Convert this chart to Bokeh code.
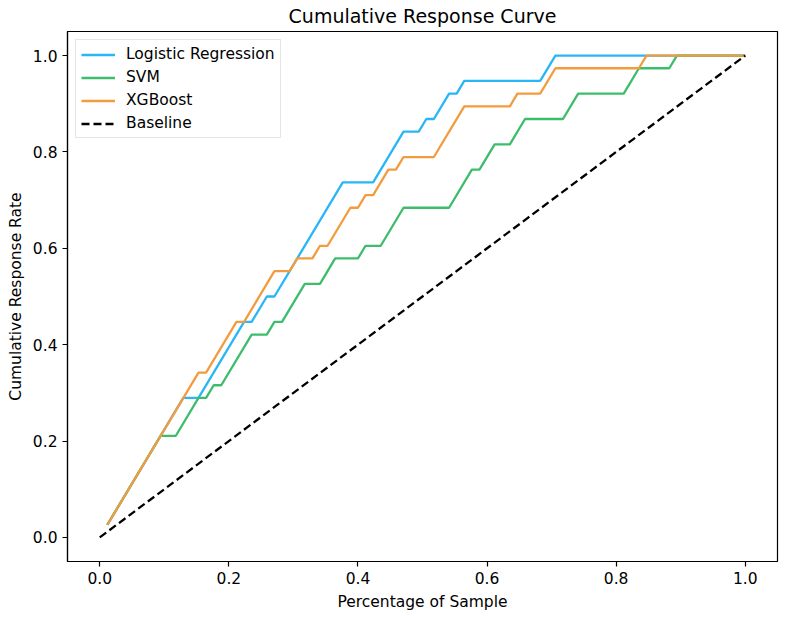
from bokeh.plotting import figure
from bokeh.models import Range1d, FixedTicker, PrintfTickFormatter
from bokeh.embed import file_html
from bokeh.resources import INLINE

# Test-set size and number of responders used to normalise the curves
N_SAMPLES = 85
N_POSITIVES = 38

# Vertices of each cumulative response curve:
# samples taken (ranked by score) and responders captured at that point
lr_samples = [1, 11, 13, 19, 20, 22, 23, 32, 36, 40, 42, 43, 44, 46, 47, 48, 58, 60, 85]
lr_hits = [1, 11, 11, 17, 17, 19, 19, 28, 28, 32, 32, 33, 33, 35, 35, 36, 36, 38, 38]

svm_samples = [1, 8, 10, 13, 14, 15, 16, 20, 22, 23, 24, 27, 29, 31, 34, 35, 37, 40,
               46, 49, 50, 52, 54, 56, 61, 63, 69, 71, 75, 76, 85]
svm_hits = [1, 8, 8, 11, 11, 12, 12, 16, 16, 17, 17, 20, 20, 22, 22, 23, 23, 26,
            26, 29, 29, 31, 31, 33, 33, 35, 35, 37, 37, 38, 38]

xgb_samples = [1, 13, 14, 18, 19, 23, 25, 26, 28, 29, 30, 33, 34, 35, 36, 38, 39, 40,
               44, 48, 54, 55, 58, 60, 71, 72, 85]
xgb_hits = [1, 13, 13, 17, 17, 21, 21, 22, 22, 23, 23, 26, 26, 27, 27, 29, 29, 30,
            30, 34, 34, 35, 35, 37, 37, 38, 38]

baseline_x = [0.0, 1.0]
baseline_y = [0.0, 1.0]

tick_values = [0.0, 0.2, 0.4, 0.6, 0.8, 1.0]

series = [
    ("Logistic Regression", lr_samples, lr_hits, "#29B6F6"),
    ("SVM", svm_samples, svm_hits, "#3DBD6C"),
    ("XGBoost", xgb_samples, xgb_hits, "#F39B3F"),
]

FONT = "DejaVu Sans"

p = figure(
    width=786, height=617,
    output_backend="svg", toolbar_location=None,
    x_range=Range1d(-0.05, 1.05), y_range=Range1d(-0.05, 1.05),
    min_border_left=67, min_border_right=9,
    min_border_top=31, min_border_bottom=56,
    title="Cumulative Response Curve",
    x_axis_label="Percentage of Sample",
    y_axis_label="Cumulative Response Rate",
)
p.background_fill_color = "white"
p.border_fill_color = "white"
p.grid.visible = False
p.outline_line_color = "black"
p.outline_line_width = 1.2
p.outline_line_alpha = 1.0

p.title.align = "center"
p.title.vertical_align = "middle"
p.title.text_font = FONT
p.title.text_font_size = "19px"
p.title.text_font_style = "normal"
p.title.text_color = "black"
p.title.standoff = 7

for ax in (p.xaxis[0], p.yaxis[0]):
    ax.ticker = FixedTicker(ticks=tick_values)
    ax.formatter = PrintfTickFormatter(format="%.1f")
    ax.minor_tick_line_color = None
    ax.major_tick_in = 0
    ax.major_tick_out = 5
    ax.major_tick_line_color = "black"
    ax.major_tick_line_width = 1.2
    ax.axis_line_color = "black"
    ax.axis_line_width = 1.2
    ax.major_label_text_font = FONT
    ax.major_label_text_font_size = "15.5px"
    ax.major_label_text_color = "black"
    ax.axis_label_text_font = FONT
    ax.axis_label_text_font_size = "15.5px"
    ax.axis_label_text_font_style = "normal"
    ax.axis_label_text_color = "black"

p.xaxis.major_label_standoff = 5
p.xaxis.axis_label_standoff = 6
p.yaxis.major_label_standoff = 5
p.yaxis.axis_label_standoff = 5

for name, samples, hits, color in series:
    xs = [s / N_SAMPLES for s in samples]
    ys = [h / N_POSITIVES for h in hits]
    p.line(xs, ys, line_color=color, line_width=2.3, legend_label=name)

p.line(baseline_x, baseline_y, line_color="black", line_width=2.3,
       line_dash="8 4", legend_label="Baseline")

lg = p.legend[0]
lg.location = "top_left"
lg.margin = 8
lg.padding = 5
lg.spacing = 5
lg.label_standoff = 11
lg.glyph_width = 34
lg.glyph_height = 17
lg.label_height = 17
lg.label_text_font = FONT
lg.label_text_font_size = "15.5px"
lg.label_text_color = "black"
lg.border_line_color = "#cccccc"
lg.border_line_width = 1
lg.background_fill_color = "white"
lg.background_fill_alpha = 0.8

open("out.html", "w").write(file_html(p, INLINE))
